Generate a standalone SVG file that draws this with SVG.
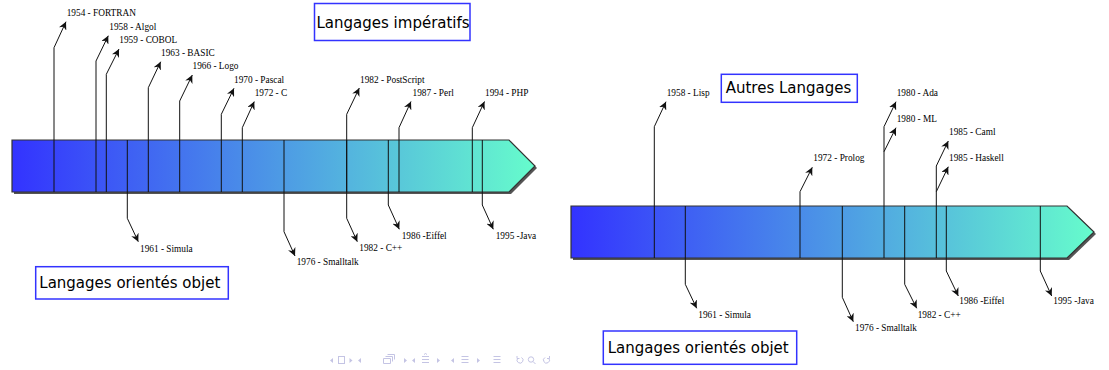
<svg xmlns="http://www.w3.org/2000/svg" width="1109" height="370" viewBox="0 0 1109 370">
<style>
.lbl{font-family:"Liberation Serif","Times New Roman",serif;font-size:9.3px;fill:#000}
.ttl{font-family:"DejaVu Sans",sans-serif;font-size:15px;fill:#000}
.box{fill:#fff;stroke:#3333ff;stroke-width:1.5}
.bar{stroke:#333;stroke-width:1.2}
.shadow{fill:#555}
.ev{fill:none;stroke:#111;stroke-width:1}
.arr{fill:none;stroke:#111;stroke-width:1;marker-end:url(#ah)}
.nav{fill:none;stroke:#c4c4e4;stroke-width:1}
.navf{fill:#c4c4e4}
</style>
<defs>
<linearGradient id="grad" x1="0" y1="0" x2="1" y2="0">
<stop offset="0" stop-color="#3333ff"/>
<stop offset="1" stop-color="#66fccc"/>
</linearGradient>
<marker id="ah" viewBox="0 0 10 10" refX="10" refY="5" markerWidth="8" markerHeight="8" markerUnits="userSpaceOnUse" orient="auto">
<path d="M0,0 L10,5 L0,10 L3,5 z" fill="#111"/>
</marker>
</defs>

<!-- Left timeline bar -->
<g id="bar-left">
<polygon class="shadow" points="14,141.5 511,141.5 537,168 511,194 14,194"/>
<polygon class="bar" fill="url(#grad)" points="12,140 509,140 535,166 509,192 12,192"/>
</g>
<!-- Right timeline bar -->
<g id="bar-right">
<polygon class="shadow" points="573,207.5 1069,207.5 1096,234 1069,260 573,260"/>
<polygon class="bar" fill="url(#grad)" points="571,206 1067,206 1094,232 1067,258 571,258"/>
</g>

<!-- Connectors -->
<g id="connectors">
<!-- left, up -->
<path class="arr" d="M54,192 V47.7 L66,21.7"/>
<path class="arr" d="M96,192 V61 L108.3,35.7"/>
<path class="arr" d="M106.3,192 V74.3 L119,49"/>
<path class="arr" d="M148.3,192 V87.7 L160.7,61.7"/>
<path class="arr" d="M179.7,192 V101 L192.3,75"/>
<path class="arr" d="M221.3,192 V114.3 L234,88.3"/>
<path class="arr" d="M242.3,192 V127.7 L254.3,101.5"/>
<path class="arr" d="M346.7,192 V114.3 L359.3,88"/>
<path class="arr" d="M399,192 V127.7 L411,101.5"/>
<path class="arr" d="M472.3,192 V127.7 L484.5,101.5"/>
<!-- left, down -->
<path class="arr" d="M127.3,140 V218.3 L138.3,241.7"/>
<path class="arr" d="M284,140 V231.7 L295,256"/>
<path class="arr" d="M346.7,140 V218.3 L357.3,241.7"/>
<path class="arr" d="M388.3,140 V205 L399.3,229.3"/>
<path class="arr" d="M482.3,140 V205 L493.3,229.3"/>
<!-- right, up -->
<path class="arr" d="M654.3,258 V126.7 L666,101.7"/>
<path class="arr" d="M800,258 V191.7 L812.3,167.3"/>
<path class="arr" d="M884,258 V126.7 L896,101.7"/>
<path class="arr" d="M884,151.7 L896,127.7"/>
<path class="arr" d="M936.3,258 V166 L948.3,141"/>
<path class="arr" d="M936.3,191.7 L948.3,166.7"/>
<!-- right, down -->
<path class="arr" d="M685.3,206 V284.3 L696.7,308.3"/>
<path class="arr" d="M842.3,206 V297.3 L853.3,321.7"/>
<path class="arr" d="M904.7,206 V284.3 L916.7,308.3"/>
<path class="arr" d="M946.3,206 V271 L958.3,296"/>
<path class="arr" d="M1040.3,206 V271 L1051.7,296"/>
</g>

<!-- Left labels -->
<g id="ev-1954-fortran"><text class="lbl" x="66.7" y="16">1954 - FORTRAN</text></g>
<g id="ev-1958-algol"><text class="lbl" x="109.3" y="29.5">1958 - Algol</text></g>
<g id="ev-1959-cobol"><text class="lbl" x="119.3" y="42.8">1959 - COBOL</text></g>
<g id="ev-1963-basic"><text class="lbl" x="161" y="56">1963 - BASIC</text></g>
<g id="ev-1966-logo"><text class="lbl" x="192.5" y="69.3">1966 - Logo</text></g>
<g id="ev-1970-pascal"><text class="lbl" x="234" y="82.5">1970 - Pascal</text></g>
<g id="ev-1972-c"><text class="lbl" x="254.7" y="95.5">1972 - C</text></g>
<g id="ev-1982-postscript"><text class="lbl" x="360" y="82.5">1982 - PostScript</text></g>
<g id="ev-1987-perl"><text class="lbl" x="412.5" y="95.5">1987 - Perl</text></g>
<g id="ev-1994-php"><text class="lbl" x="485" y="95.5">1994 - PHP</text></g>
<g id="ev-1961-simula-l"><text class="lbl" x="140" y="252">1961 - Simula</text></g>
<g id="ev-1976-smalltalk-l"><text class="lbl" x="296.7" y="265">1976 - Smalltalk</text></g>
<g id="ev-1982-cpp-l"><text class="lbl" x="359.3" y="251.3">1982 - C++</text></g>
<g id="ev-1986-eiffel-l"><text class="lbl" x="401.7" y="238.5">1986 -Eiffel</text></g>
<g id="ev-1995-java-l"><text class="lbl" x="495.7" y="238.5">1995 -Java</text></g>

<!-- Right labels -->
<g id="ev-1958-lisp"><text class="lbl" x="666.7" y="95.5">1958 - Lisp</text></g>
<g id="ev-1972-prolog"><text class="lbl" x="813.3" y="161">1972 - Prolog</text></g>
<g id="ev-1980-ada"><text class="lbl" x="896.7" y="95.5">1980 - Ada</text></g>
<g id="ev-1980-ml"><text class="lbl" x="896.7" y="122">1980 - ML</text></g>
<g id="ev-1985-caml"><text class="lbl" x="949" y="134.5">1985 - Caml</text></g>
<g id="ev-1985-haskell"><text class="lbl" x="949" y="160.5">1985 - Haskell</text></g>
<g id="ev-1961-simula-r"><text class="lbl" x="698.3" y="318">1961 - Simula</text></g>
<g id="ev-1976-smalltalk-r"><text class="lbl" x="855" y="330.5">1976 - Smalltalk</text></g>
<g id="ev-1982-cpp-r"><text class="lbl" x="917.7" y="317.5">1982 - C++</text></g>
<g id="ev-1986-eiffel-r"><text class="lbl" x="959.3" y="304">1986 -Eiffel</text></g>
<g id="ev-1995-java-r"><text class="lbl" x="1053.3" y="304">1995 -Java</text></g>

<!-- Title boxes -->
<g id="title-imperatifs">
<rect class="box" x="314.5" y="3.5" width="155.5" height="37"/>
<text class="ttl" x="316.5" y="27.7">Langages impératifs</text>
</g>
<g id="title-objet-left">
<rect class="box" x="35.7" y="266.7" width="192.6" height="32.3"/>
<text class="ttl" x="39.3" y="288">Langages orientés objet</text>
</g>
<g id="title-autres">
<rect class="box" x="721.3" y="74.3" width="136" height="28"/>
<text class="ttl" x="725.7" y="92.5">Autres Langages</text>
</g>
<g id="title-objet-right">
<rect class="box" x="603.3" y="331" width="193.4" height="33.3"/>
<text class="ttl" x="607.7" y="352.5">Langages orientés objet</text>
</g>

<!-- beamer navigation symbols -->
<g id="nav">
<path class="navf" d="M333,358 L330,360.5 L333,363 z"/>
<rect class="nav" x="338.5" y="356.5" width="6" height="7"/>
<path class="navf" d="M349.5,358 L352.5,360.5 L349.5,363 z"/>
<path class="navf" d="M361,358 L358,360.5 L361,363 z"/>
<path class="nav" d="M383.5,358.5 h7 v5 h-7 z M385.5,356.5 h7 v5 M387.5,354.5 h7 v5"/>
<path class="navf" d="M404,358 L407,360.5 L404,363 z"/>
<path class="navf" d="M415,358 L412,360.5 L415,363 z"/>
<path class="nav" d="M422,356.5 h7 M422,359.5 h7 M422,362.5 h7 M424,354.5 L425.5,353.5 L427,354.5"/>
<path class="navf" d="M437,358 L440,360.5 L437,363 z"/>
<path class="navf" d="M454,358 L451,360.5 L454,363 z"/>
<path class="nav" d="M461.5,356.5 h7 M461.5,359.5 h7 M461.5,362.5 h7"/>
<path class="navf" d="M477,358 L480,360.5 L477,363 z"/>
<path class="nav" d="M493.5,356.5 h7 M493.5,359.5 h7 M493.5,362.5 h7"/>
<path class="nav" d="M521.5,357.5 a3,3 0 1 1 -4,1 M517,356 v2.5 h2.5"/>
<circle class="nav" cx="531" cy="359.5" r="2.7"/>
<path class="nav" d="M533,361.5 L535.5,364"/>
<path class="nav" d="M545,357.5 a3,3 0 1 0 4,1 M549.5,356 v2.5 h-2.5"/>
</g>
</svg>
